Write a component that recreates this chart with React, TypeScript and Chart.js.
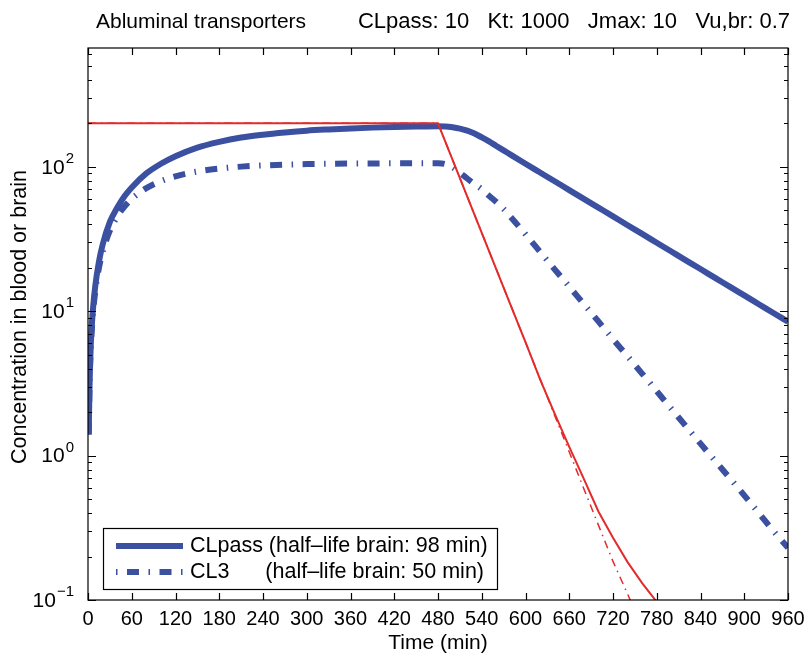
import React, { useEffect, useRef } from "react";
import { Chart, registerables } from "chart.js";

Chart.register(...registerables);

// ---- data ----
const titleLeft = "Abluminal transporters";
const titleParams = "CLpass: 10   Kt: 1000   Jmax: 10   Vu,br: 0.7";
const xTicks = [0, 60, 120, 180, 240, 300, 360, 420, 480, 540, 600, 660, 720, 780, 840, 900, 960];
const yExponents = [-1, 0, 1, 2];

const blueSolidT = [1, 2, 4, 7, 10, 15, 20, 30, 40, 50, 60, 80, 100, 120, 150, 180, 210, 240, 270, 300, 330, 360, 390, 420, 450, 480, 490, 500, 510, 520, 530, 540, 550, 560, 570, 580, 600, 620, 640, 660, 680, 700, 720, 740, 760, 780, 800, 820, 840, 860, 880, 900, 920, 940, 960];
const blueSolidV = [1.4, 2.9, 6.2, 10.6, 15.0, 22.0, 28.8, 41.5, 52, 62.5, 72, 90, 105, 118.5, 136, 149, 159.5, 167, 173, 178, 181.5, 184.5, 186.8, 188.6, 190, 191, 190.5, 188, 184, 178, 170, 160, 150, 139.5, 130, 121, 105, 91.3, 79.4, 69.0, 60.0, 52.2, 45.4, 39.4, 34.3, 29.8, 25.9, 22.5, 19.6, 17.0, 14.8, 12.86, 11.18, 9.72, 8.45];

const blueDashT = [1, 2, 4, 7, 10, 15, 20, 30, 40, 50, 60, 80, 100, 120, 150, 180, 210, 240, 300, 360, 420, 480, 490, 500, 510, 520, 530, 540, 550, 560, 570, 580, 600, 620, 640, 660, 680, 700, 720, 740, 760, 780, 800, 820, 840, 860, 880, 900, 920, 940, 960];
const blueDashV = [1.4, 2.9, 5.8, 9.8, 13.8, 19.9, 25.7, 36.1, 45.2, 53.1, 60.0, 71.2, 79.6, 86.0, 92.8, 97.3, 100.3, 102.2, 104.4, 105.3, 105.7, 105.9, 104.5, 99, 91, 83, 76, 70, 63, 57, 51, 44.8, 34.1, 25.8, 19.5, 14.8, 11.2, 8.5, 6.4, 4.87, 3.69, 2.79, 2.11, 1.6, 1.21, 0.92, 0.7, 0.53, 0.4, 0.3, 0.23];

const redSolidT = [0, 480, 490, 500, 520, 540, 560, 580, 600, 620, 640, 660, 680, 700, 720, 740, 760, 780, 800];
const redSolidV = [200, 200, 149.5, 111.8, 62.4, 34.9, 19.5, 10.9, 6.1, 3.37, 1.95, 1.15, 0.69, 0.41, 0.27, 0.183, 0.131, 0.097, 0.07];

const redDashT = [0, 480, 500, 520, 540, 560, 580, 600, 620, 640, 660, 680, 700, 720, 740, 760];
const redDashV = [200, 200, 111.8, 62.4, 34.9, 19.5, 10.9, 6.1, 3.4, 1.9, 1.06, 0.59, 0.33, 0.185, 0.11, 0.065];

const legendLabels = ["CLpass (half\u2013life brain: 98 min)", "CL3", "(half\u2013life brain: 50 min)"];

const BLUE = "#3b50a0";
const RED = "#e32b2b";
const FONT = '"Liberation Sans", Arial, Helvetica, sans-serif';
const BLUE_DASH = [12, 9.5, 1.5, 9.5];
const RED_DASH = [8, 5, 1.5, 5];

const pts = (t: number[], v: number[]) => t.map((x, i) => ({ x, y: v[i] }));

function txt(ctx: CanvasRenderingContext2D, s: string, x: number, y: number, size: number, align: CanvasTextAlign = "left") {
  ctx.font = `${size}px ${FONT}`;
  ctx.textAlign = align;
  ctx.textBaseline = "middle";
  ctx.fillStyle = "#000";
  ctx.fillText(s, x, y);
}

const decorPlugin = {
  id: "decor",
  afterDatasetsDraw(chart: any) {
    const ctx: CanvasRenderingContext2D = chart.ctx;
    const { left, right, top, bottom } = chart.chartArea;
    const xs = chart.scales.x;
    const ys = chart.scales.y;
    ctx.save();
    // box
    ctx.strokeStyle = "#000";
    ctx.lineWidth = 1.2;
    ctx.setLineDash([]);
    ctx.strokeRect(left, top, right - left, bottom - top);
    // x ticks
    ctx.beginPath();
    for (const t of xTicks) {
      const px = Math.round(xs.getPixelForValue(t)) + 0.5;
      ctx.moveTo(px, bottom);
      ctx.lineTo(px, bottom - 7);
      ctx.moveTo(px, top);
      ctx.lineTo(px, top + 7);
    }
    // y ticks
    const yMin = ys.min, yMax = ys.max;
    for (let e = -1; e <= 2; e++) {
      for (let k = 1; k <= 9; k++) {
        const v = k * Math.pow(10, e);
        if (v < yMin * 0.999 || v > yMax) continue;
        const py = Math.round(ys.getPixelForValue(v)) + 0.5;
        const len = k === 1 ? 8 : 4;
        ctx.moveTo(left, py);
        ctx.lineTo(left + len, py);
        ctx.moveTo(right, py);
        ctx.lineTo(right - len, py);
      }
    }
    ctx.stroke();
    // x tick labels
    for (const t of xTicks) {
      txt(ctx, String(t), xs.getPixelForValue(t), 619, 20, "center");
    }
    // y tick labels 10^e
    for (const e of yExponents) {
      const py = ys.getPixelForValue(Math.pow(10, e));
      const sup = e < 0 ? "\u2212" + Math.abs(e) : String(e);
      ctx.font = `15px ${FONT}`;
      const w = ctx.measureText(sup).width;
      txt(ctx, sup, 74, py - 8, 15, "right");
      txt(ctx, "10", 74 - w - 1, py + 1, 21, "right");
    }
    // axis titles
    txt(ctx, "Time (min)", (left + right) / 2, 643, 21, "center");
    ctx.save();
    ctx.translate(20, 317);
    ctx.rotate(-Math.PI / 2);
    txt(ctx, "Concentration in blood or brain", 0, 0, 21.5, "center");
    ctx.restore();
    // title row
    txt(ctx, titleLeft, 96, 22, 21, "left");
    txt(ctx, titleParams, 790, 22, 22, "right");
    // legend
    ctx.fillStyle = "#fff";
    ctx.fillRect(103.5, 528.5, 394, 61);
    ctx.strokeStyle = "#000";
    ctx.lineWidth = 1.2;
    ctx.strokeRect(103.5, 528.5, 394, 61);
    ctx.strokeStyle = BLUE;
    ctx.lineWidth = 6;
    ctx.lineCap = "butt";
    ctx.beginPath();
    ctx.moveTo(116, 546);
    ctx.lineTo(183, 546);
    ctx.stroke();
    ctx.setLineDash(BLUE_DASH);
    ctx.lineDashOffset = BLUE_DASH[0] + BLUE_DASH[1];
    ctx.beginPath();
    ctx.moveTo(116, 572);
    ctx.lineTo(183, 572);
    ctx.stroke();
    ctx.setLineDash([]);
    txt(ctx, legendLabels[0], 190, 546, 21.5, "left");
    txt(ctx, legendLabels[1], 190, 572, 21.5, "left");
    txt(ctx, legendLabels[2], 484, 572, 21.5, "right");
    ctx.restore();
  },
};

export default function App() {
  const ref = useRef<HTMLCanvasElement | null>(null);
  useEffect(() => {
    if (!ref.current) return;
    const chart = new Chart(ref.current, {
      type: "line",
      data: {
        datasets: [
          { data: pts(redSolidT, redSolidV), borderColor: RED, borderWidth: 2, pointRadius: 0, tension: 0, order: 0, clip: 0 } as any,
          { data: pts(redDashT, redDashV), borderColor: RED, borderWidth: 1.5, borderDash: RED_DASH, pointRadius: 0, tension: 0, order: 1, clip: 0 } as any,
          { data: pts(blueDashT, blueDashV), borderColor: BLUE, borderWidth: 6, borderDash: BLUE_DASH, borderCapStyle: "butt", pointRadius: 0, cubicInterpolationMode: "monotone", order: 2, clip: 0 } as any,
          { data: pts(blueSolidT, blueSolidV), borderColor: BLUE, borderWidth: 6, pointRadius: 0, cubicInterpolationMode: "monotone", order: 3, clip: 0 } as any,
        ],
      },
      options: {
        animation: false,
        responsive: false,
        devicePixelRatio: 1,
        layout: { padding: { left: 88, right: 21, top: 48, bottom: 54 } },
        plugins: { legend: { display: false }, tooltip: { enabled: false }, title: { display: false } },
        scales: {
          x: { type: "linear", min: 0, max: 960, display: false },
          y: { type: "logarithmic", min: 0.1, max: 665, display: false },
        },
      },
      plugins: [decorPlugin],
    });
    return () => chart.destroy();
  }, []);
  return (
    <div style={{ position: "absolute", left: 0, top: 0, width: 809, height: 654, background: "#fff" }}>
      <canvas ref={ref} width={809} height={654} style={{ display: "block" }} />
    </div>
  );
}
